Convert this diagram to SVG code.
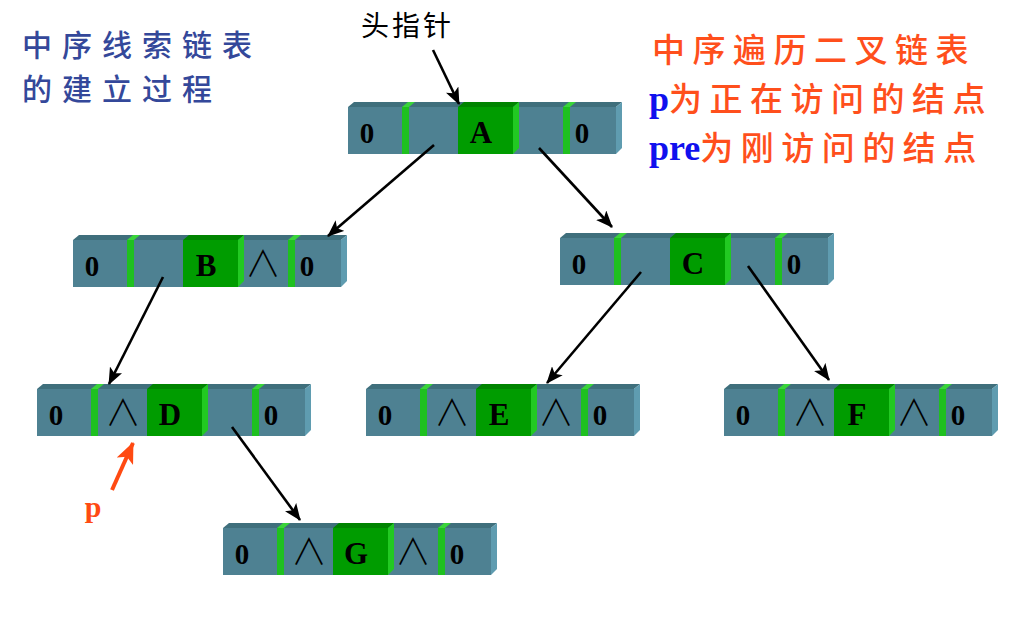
<svg xmlns="http://www.w3.org/2000/svg" xmlns:xlink="http://www.w3.org/1999/xlink" width="1024" height="626" viewBox="0 0 1024 626">
<style>
.cjk{font-family:"Noto Sans CJK SC","Liberation Sans",sans-serif;}
.title{font-size:30px;fill:#34489a;letter-spacing:10px;font-weight:500;}
.note{font-size:33px;fill:#ff4f1c;letter-spacing:7.5px;font-weight:500;}
.blue{font-family:"Liberation Serif",serif;font-weight:bold;font-size:36px;fill:#1010ee;letter-spacing:0;}
.tag{font-family:"Liberation Serif",serif;font-weight:bold;font-size:29px;fill:#000;text-anchor:middle;}
.data{font-family:"Liberation Serif",serif;font-weight:bold;font-size:31px;fill:#000;text-anchor:middle;}
.nil{font-family:"Noto Sans CJK SC","DejaVu Sans",sans-serif;font-size:36px;font-weight:300;fill:#000;text-anchor:middle;}
.conn{stroke:#000;stroke-width:2.6;fill:none;marker-end:url(#ah);}
.parr{stroke:#ff4a12;stroke-width:4;fill:none;marker-end:url(#ahp);}
</style>
<defs>
<marker id="ah" markerUnits="userSpaceOnUse" markerWidth="18" markerHeight="14" refX="16" refY="7" orient="auto">
<path d="M0,0 L17,7 L0,14 L4,7 Z" fill="#000"/>
</marker>
<marker id="ahp" markerUnits="userSpaceOnUse" markerWidth="22" markerHeight="18" refX="20" refY="9" orient="auto">
<path d="M0,0 L21,9 L0,18 L5,9 Z" fill="#ff4a12"/>
</marker>
<g id="body">
<rect x="0" y="0" width="268" height="47" fill="#4e8192"/>
<polygon points="0,0 268,0 274,-5 6,-5" fill="#3f6f7c"/>
<polygon points="268,0 274,-5 274,41 268,47" fill="#5f9cb0"/>
<rect x="54" y="0" width="7" height="47" fill="#1fc01f"/>
<polygon points="54,0 61,0 67,-5 60,-5" fill="#3ad43a"/>
<rect x="110" y="0" width="55" height="47" fill="#009c00"/>
<polygon points="110,0 165,0 171,-5 116,-5" fill="#008400"/>
<polygon points="165,0 171,-5 171,41 165,47" fill="#22c922"/>
<rect x="215" y="0" width="7" height="47" fill="#1fc01f"/>
<polygon points="215,0 222,0 228,-5 221,-5" fill="#3ad43a"/>
</g>
</defs>
<rect width="1024" height="626" fill="#ffffff"/>

<g id="title-left" class="cjk title">
<text x="22" y="56">中序线索链表</text>
<text x="22" y="100">的建立过程</text>
</g>

<g id="legend" class="cjk note">
<text x="652" y="62">中序遍历二叉链表</text>
<text x="649" y="111"><tspan class="blue">p</tspan>为正在访问的结点</text>
<text x="649" y="160"><tspan class="blue">pre</tspan>为刚访问的结点</text>
</g>

<g id="head-label">
<text class="cjk" x="361" y="36" font-size="28" fill="#000" letter-spacing="3">头指针</text>
</g>

<g id="node-A" transform="translate(348,107)">
<use xlink:href="#body"/>
<text class="tag" x="19" y="36">0</text>
<text class="data" x="133" y="36">A</text>
<text class="tag" x="234" y="36">0</text>
</g>

<g id="node-B" transform="translate(73,240)">
<use xlink:href="#body"/>
<text class="tag" x="19" y="36">0</text>
<text class="data" x="133" y="36">B</text>
<text class="nil" x="190" y="37">∧</text>
<text class="tag" x="234" y="36">0</text>
</g>

<g id="node-C" transform="translate(560,238)">
<use xlink:href="#body"/>
<text class="tag" x="19" y="36">0</text>
<text class="data" x="133" y="36">C</text>
<text class="tag" x="234" y="36">0</text>
</g>

<g id="node-D" transform="translate(37,389)">
<use xlink:href="#body"/>
<text class="tag" x="19" y="36">0</text>
<text class="nil" x="86" y="37">∧</text>
<text class="data" x="133" y="36">D</text>
<text class="tag" x="234" y="36">0</text>
</g>

<g id="node-E" transform="translate(366,389)">
<use xlink:href="#body"/>
<text class="tag" x="19" y="36">0</text>
<text class="nil" x="86" y="37">∧</text>
<text class="data" x="133" y="36">E</text>
<text class="nil" x="190" y="37">∧</text>
<text class="tag" x="234" y="36">0</text>
</g>

<g id="node-F" transform="translate(724,389)">
<use xlink:href="#body"/>
<text class="tag" x="19" y="36">0</text>
<text class="nil" x="86" y="37">∧</text>
<text class="data" x="133" y="36">F</text>
<text class="nil" x="190" y="37">∧</text>
<text class="tag" x="234" y="36">0</text>
</g>

<g id="node-G" transform="translate(223,528)">
<use xlink:href="#body"/>
<text class="tag" x="19" y="36">0</text>
<text class="nil" x="86" y="37">∧</text>
<text class="data" x="133" y="36">G</text>
<text class="nil" x="190" y="37">∧</text>
<text class="tag" x="234" y="36">0</text>
</g>

<g id="p-label">
<text x="93" y="517" font-family="Liberation Serif, serif" font-weight="bold" font-size="30" fill="#ff4a12" text-anchor="middle">p</text>
</g>

<g id="connectors">
<line class="conn" x1="433" y1="50" x2="459" y2="104"/>
<line class="conn" x1="434" y1="145" x2="328" y2="236"/>
<line class="conn" x1="539" y1="148" x2="612" y2="227"/>
<line class="conn" x1="163" y1="277" x2="109" y2="384"/>
<line class="conn" x1="641" y1="272" x2="547" y2="383"/>
<line class="conn" x1="748" y1="266" x2="829" y2="380"/>
<line class="conn" x1="232" y1="427" x2="300" y2="520"/>
<line class="parr" x1="112" y1="490" x2="133" y2="443"/>
</g>
</svg>
